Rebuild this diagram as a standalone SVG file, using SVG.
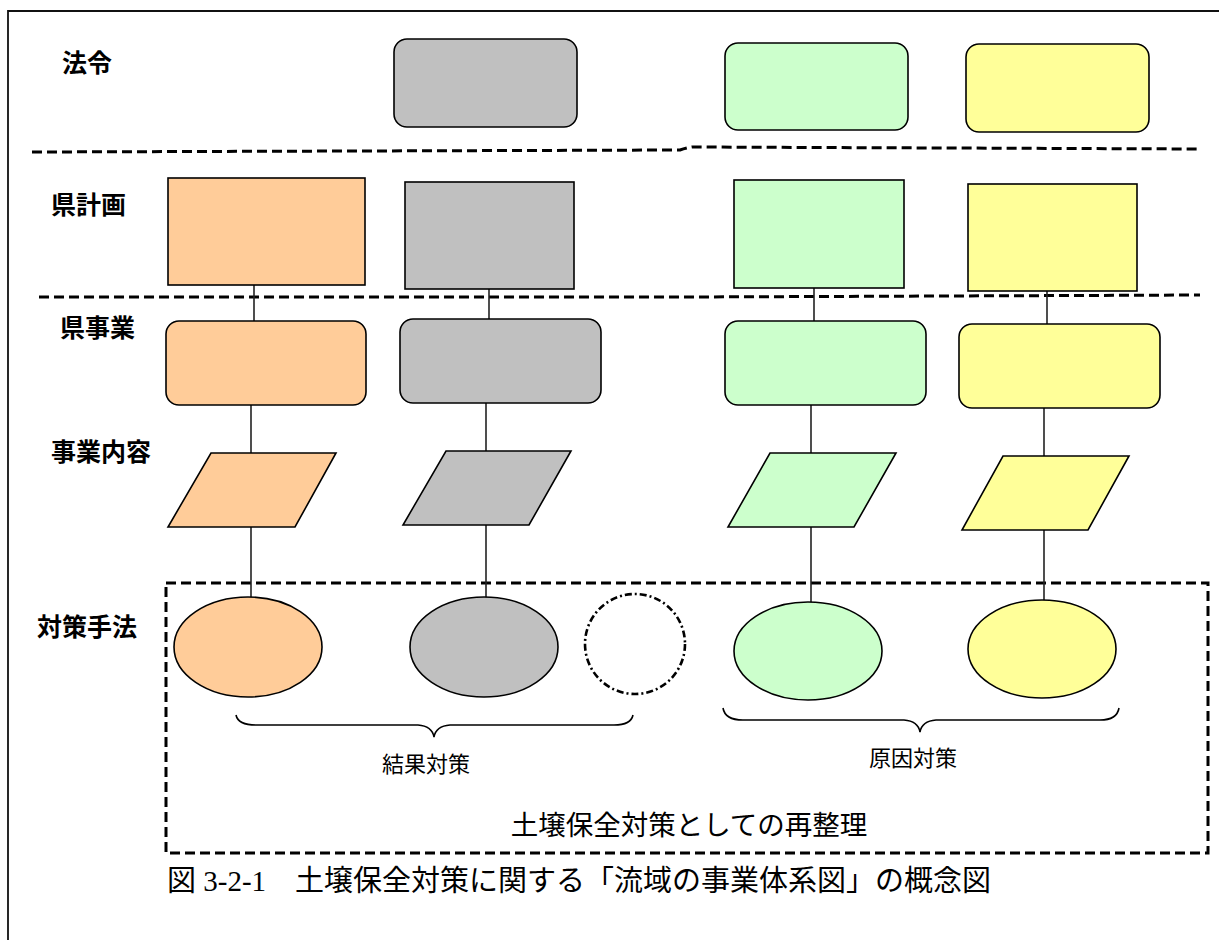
<svg xmlns="http://www.w3.org/2000/svg" width="1219" height="940" viewBox="0 0 1219 940">
<style>
.bg{fill:#ffffff}
.frame{fill:none;stroke:#111;stroke-width:1.8}
.sep{fill:none;stroke:#000;stroke-width:3;stroke-dasharray:10 5}
.box{stroke:#000;stroke-width:1.6}
.or{fill:#FFCC99}.gy{fill:#C0C0C0}.gr{fill:#CCFFCC}.ye{fill:#FFFF99}
.conn{stroke:#222;stroke-width:1.6;fill:none}
.brace{stroke:#000;stroke-width:1.6;fill:none}
.lbl{font-family:"Noto Sans CJK JP","Liberation Sans",sans-serif;font-weight:bold;font-size:25px;fill:#000}
.txt{font-family:"Noto Sans CJK JP","Liberation Sans",sans-serif;font-size:22px;fill:#000}
.big{font-family:"Noto Sans CJK JP","Liberation Sans",sans-serif;font-size:27.5px;fill:#000}
.cap{font-family:"Liberation Serif","Noto Sans CJK JP",serif;font-size:29px;fill:#000}
.group{fill:none;stroke:#000;stroke-width:3;stroke-dasharray:10 5}
</style>
<rect class="bg" x="0" y="0" width="1219" height="940"/>
<path class="frame" d="M8,940 V11 H1219"/>

<g id="separators">
<path class="sep" d="M32,152 L680,150 Q686,148 692,147 L1200,149"/>
<path class="sep" d="M39,297 L690,297 L1200,295"/>
</g>

<g id="row-labels">
<text class="lbl" x="62" y="72">法令</text>
<text class="lbl" x="51" y="214">県計画</text>
<text class="lbl" x="60" y="337">県事業</text>
<text class="lbl" x="51" y="461">事業内容</text>
<text class="lbl" x="37" y="636">対策手法</text>
</g>

<g id="group-box">
<rect class="group" x="166" y="583" width="1042" height="270"/>
</g>

<g id="connectors">
<line class="conn" x1="254" y1="285" x2="254" y2="321"/>
<line class="conn" x1="489" y1="289" x2="489" y2="319"/>
<line class="conn" x1="814" y1="288" x2="814" y2="321"/>
<line class="conn" x1="1047" y1="291" x2="1047" y2="324"/>
<line class="conn" x1="251" y1="405" x2="251" y2="453"/>
<line class="conn" x1="486" y1="403" x2="486" y2="451"/>
<line class="conn" x1="811" y1="405" x2="811" y2="453"/>
<line class="conn" x1="1044" y1="408" x2="1044" y2="456"/>
<line class="conn" x1="251" y1="527" x2="251" y2="598"/>
<line class="conn" x1="486" y1="525" x2="486" y2="598"/>
<line class="conn" x1="811" y1="527" x2="811" y2="603"/>
<line class="conn" x1="1044" y1="530" x2="1044" y2="600"/>
</g>

<g id="law-gray"><rect class="box gy" x="394" y="39" width="183" height="88" rx="13"/></g>
<g id="law-green"><rect class="box gr" x="725" y="43" width="183" height="87" rx="13"/></g>
<g id="law-yellow"><rect class="box ye" x="966" y="44" width="183" height="88" rx="13"/></g>

<g id="plan-orange"><rect class="box or" x="168" y="178" width="197" height="107"/></g>
<g id="plan-gray"><rect class="box gy" x="405" y="182" width="169" height="107"/></g>
<g id="plan-green"><rect class="box gr" x="734" y="180" width="170" height="108"/></g>
<g id="plan-yellow"><rect class="box ye" x="968" y="184" width="169" height="107"/></g>

<g id="project-orange"><rect class="box or" x="166" y="321" width="200" height="84" rx="13"/></g>
<g id="project-gray"><rect class="box gy" x="400" y="319" width="201" height="84" rx="13"/></g>
<g id="project-green"><rect class="box gr" x="725" y="321" width="201" height="84" rx="13"/></g>
<g id="project-yellow"><rect class="box ye" x="959" y="324" width="201" height="84" rx="13"/></g>

<g id="content-orange"><polygon class="box or" points="211,453 336,453 295,527 168,527"/></g>
<g id="content-gray"><polygon class="box gy" points="446,451 571,451 529,525 403,525"/></g>
<g id="content-green"><polygon class="box gr" points="770,453 896,453 854,527 728,527"/></g>
<g id="content-yellow"><polygon class="box ye" points="1003,456 1129,456 1088,530 962,530"/></g>

<g id="method-orange"><ellipse class="box or" cx="248" cy="647" rx="74" ry="50"/></g>
<g id="method-gray"><ellipse class="box gy" cx="484" cy="647" rx="74" ry="50"/></g>
<g id="method-blank"><circle cx="635" cy="644" r="50" fill="none" stroke="#000" stroke-width="2.6" stroke-dasharray="7 3 2 3"/></g>
<g id="method-green"><ellipse class="box gr" cx="808" cy="651" rx="74" ry="49"/></g>
<g id="method-yellow"><ellipse class="box ye" cx="1042" cy="649" rx="74" ry="49"/></g>

<g id="brace-result">
<path class="brace" d="M236,715 Q238,725 256,725 L418,725 Q432,726 434,737 Q436,726 450,725 L614,725 Q631,725 633,715"/>
<text class="txt" x="426" y="772" text-anchor="middle">結果対策</text>
</g>
<g id="brace-cause">
<path class="brace" d="M723,708 Q725,720 743,720 L904,720 Q918,721 920,732 Q922,721 936,720 L1100,720 Q1117,720 1119,708"/>
<text class="txt" x="913" y="766" text-anchor="middle">原因対策</text>
</g>

<g id="group-title">
<text class="big" x="689" y="835" text-anchor="middle">土壌保全対策としての再整理</text>
</g>

<g id="caption">
<text class="cap" x="167" y="891">図 3-2-1　土壌保全対策に関する「流域の事業体系図」の概念図</text>
</g>
</svg>
